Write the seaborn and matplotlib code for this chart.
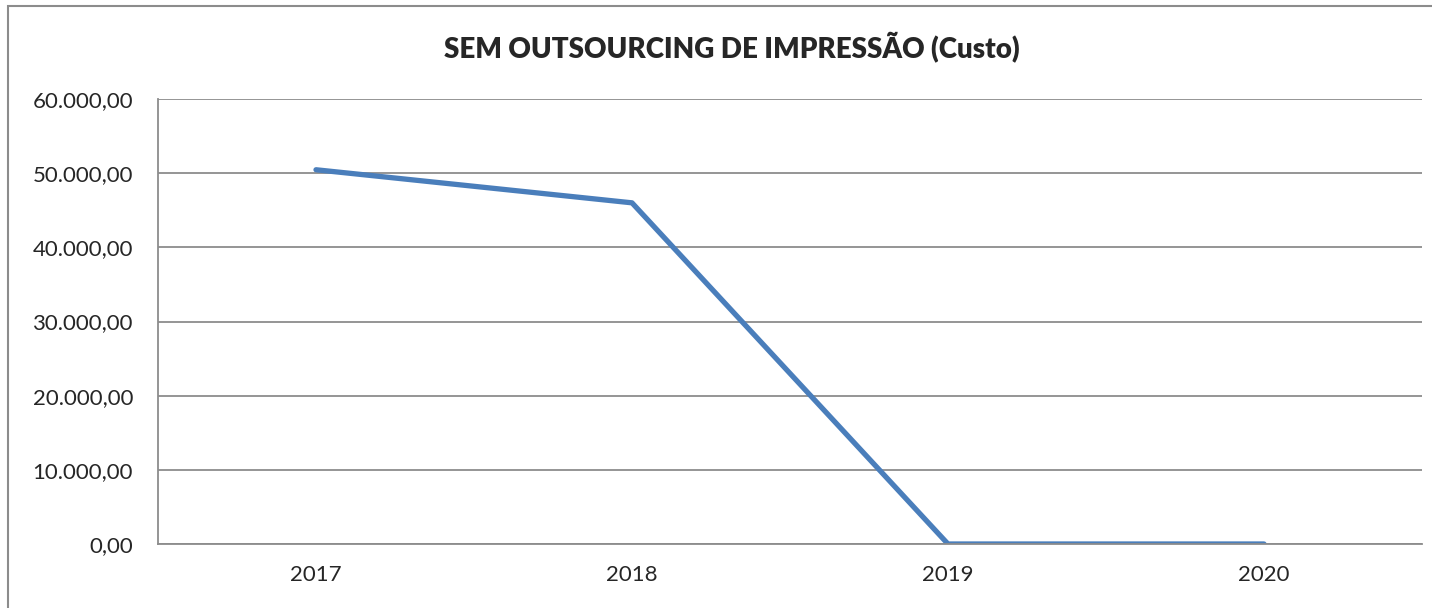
import matplotlib
matplotlib.use("Agg")
import matplotlib.pyplot as plt
import matplotlib.ticker as mticker
from matplotlib.patches import Rectangle
import seaborn as sns
import pandas as pd

# =====================================================
# Data
# =====================================================

years = ["2017", "2018", "2019", "2020"]
custo = [50460, 46000, 0, 0]

title = "SEM OUTSOURCING DE IMPRESSÃO (Custo)"

df = pd.DataFrame({"ano": years, "custo": custo})

# =====================================================
# Style
# =====================================================

sns.set_style("white")
plt.rcParams["font.family"] = ["Lato", "DejaVu Sans"]

GRID = "#8c8c8c"
LINE = "#4a7ebb"


def br_format(v, pos):
    s = f"{v:,.2f}"
    return s.replace(",", "X").replace(".", ",").replace("X", ".")


fig = plt.figure(figsize=(14.32, 6.08), dpi=100)
ax = fig.add_axes([158 / 1432, 1 - 544 / 608, 1264 / 1432, 445 / 608])

sns.lineplot(
    data=df,
    x="ano",
    y="custo",
    ax=ax,
    color=LINE,
    linewidth=3.8,
    solid_capstyle="round",
)

ax.set_xlim(-0.5, 3.5)
ax.set_ylim(0, 60000)
ax.yaxis.set_major_locator(mticker.MultipleLocator(10000))
ax.yaxis.set_major_formatter(mticker.FuncFormatter(br_format))

ax.grid(axis="y", color=GRID, linewidth=1.3)
ax.set_axisbelow(True)

for side in ["top", "right"]:
    ax.spines[side].set_visible(False)
for side in ["left", "bottom"]:
    ax.spines[side].set_color(GRID)
    ax.spines[side].set_linewidth(1.3)

ax.tick_params(axis="y", length=0, pad=18, labelsize=16)
ax.tick_params(axis="x", length=0, pad=15, labelsize=16)
ax.set_xlabel("")
ax.set_ylabel("")

fig.text(732 / 1432, 1 - 48 / 608, title,
         ha="center", va="center", fontsize=20, fontweight="heavy")

# outer chart frame (cropped at right and bottom)
fig.patches.append(Rectangle(
    (8 / 1432, -0.1), 1.2, 1.1 - 6 / 608,
    transform=fig.transFigure, fill=False,
    edgecolor=GRID, linewidth=1.5
))

fig.savefig("out.png", dpi=100)
